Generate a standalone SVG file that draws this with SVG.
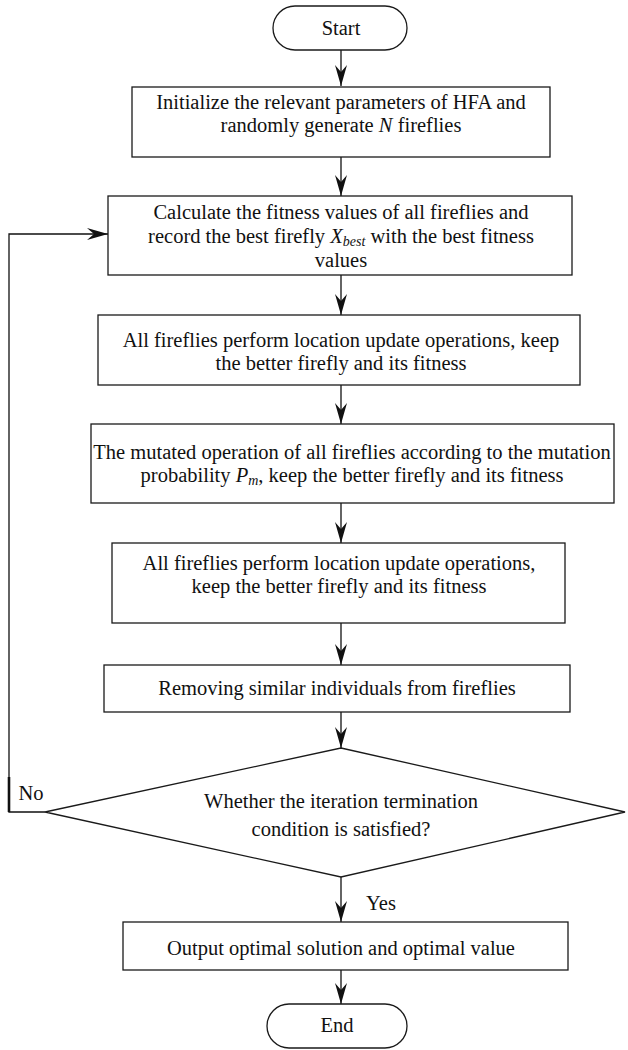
<svg xmlns="http://www.w3.org/2000/svg" width="628" height="1050" viewBox="0 0 628 1050">
<style>
.b{fill:#fff;stroke:#1a1a1a;stroke-width:1.3}
.t{font-family:"Liberation Serif","Times New Roman",serif;font-size:20.5px;fill:#111;text-anchor:middle}
.l{fill:none;stroke:#111;stroke-width:1.3}
.i{font-style:italic}
.s{font-style:italic;font-size:14px}
</style>
<defs>
<marker id="ah" markerUnits="userSpaceOnUse" markerWidth="24" markerHeight="14" viewBox="-22 -7 24 14" refX="0" refY="0" orient="auto">
<path d="M0,0 L-21,-6 L-14,0 L-21,6 Z" fill="#111"/>
</marker>
</defs>
<rect width="628" height="1050" fill="#fff"/>
<g id="connectors">
<line class="l" x1="341" y1="50" x2="341" y2="86" marker-end="url(#ah)"/>
<line class="l" x1="341" y1="157" x2="341" y2="196" marker-end="url(#ah)"/>
<line class="l" x1="341" y1="275" x2="341" y2="315" marker-end="url(#ah)"/>
<line class="l" x1="341" y1="385" x2="341" y2="424" marker-end="url(#ah)"/>
<line class="l" x1="341" y1="503" x2="341" y2="543" marker-end="url(#ah)"/>
<line class="l" x1="341" y1="623" x2="341" y2="665" marker-end="url(#ah)"/>
<line class="l" x1="341" y1="712" x2="341" y2="748" marker-end="url(#ah)"/>
<line class="l" x1="341" y1="877" x2="341" y2="922" marker-end="url(#ah)"/>
<line class="l" x1="341" y1="970" x2="341" y2="1004" marker-end="url(#ah)"/>
<polyline class="l" points="45,812 9,812 9,234 108,234" marker-end="url(#ah)"/>
<line x1="9" y1="777" x2="9" y2="812" stroke="#111" stroke-width="2.6"/>
<text class="t" x="31" y="800">No</text>
<text class="t" x="381" y="910">Yes</text>
</g>
<g id="start">
<rect class="b" x="273" y="6" width="134" height="44" rx="22"/>
<text class="t" x="341" y="35">Start</text>
</g>
<g id="init">
<rect class="b" x="132" y="87" width="418" height="70"/>
<text class="t" x="341" y="109">Initialize the relevant parameters of HFA and</text>
<text class="t" x="341" y="132">randomly generate <tspan class="i">N</tspan> fireflies</text>
</g>
<g id="calc">
<rect class="b" x="108" y="196" width="464" height="79"/>
<text class="t" x="341" y="219">Calculate the fitness values of all fireflies and</text>
<text class="t" x="341" y="243">record the best firefly <tspan class="i">X</tspan><tspan class="s" dy="3">best</tspan><tspan dy="-3"> with the best fitness</tspan></text>
<text class="t" x="341" y="267">values</text>
</g>
<g id="update1">
<rect class="b" x="98" y="315" width="482" height="70"/>
<text class="t" x="341" y="347">All fireflies perform location update operations, keep</text>
<text class="t" x="341" y="370">the better firefly and its fitness</text>
</g>
<g id="mutate">
<rect class="b" x="91" y="424" width="523" height="79"/>
<text class="t" x="352" y="459">The mutated operation of all fireflies according to the mutation</text>
<text class="t" x="352" y="482">probability <tspan class="i">P</tspan><tspan class="s" dy="3">m</tspan><tspan dy="-3">, keep the better firefly and its fitness</tspan></text>
</g>
<g id="update2">
<rect class="b" x="112" y="543" width="453" height="80"/>
<text class="t" x="339" y="570">All fireflies perform location update operations,</text>
<text class="t" x="339" y="593">keep the better firefly and its fitness</text>
</g>
<g id="remove">
<rect class="b" x="104" y="665" width="466" height="47"/>
<text class="t" x="337" y="695">Removing similar individuals from fireflies</text>
</g>
<g id="decision">
<polygon class="b" points="341,748 625,812 341,877 45,812"/>
<text class="t" x="341" y="808">Whether the iteration termination</text>
<text class="t" x="341" y="836">condition is satisfied?</text>
</g>
<g id="output">
<rect class="b" x="123" y="922" width="445" height="48"/>
<text class="t" x="341" y="955">Output optimal solution and optimal value</text>
</g>
<g id="end">
<rect class="b" x="267" y="1004" width="140" height="44" rx="22"/>
<text class="t" x="337" y="1032">End</text>
</g>
</svg>
